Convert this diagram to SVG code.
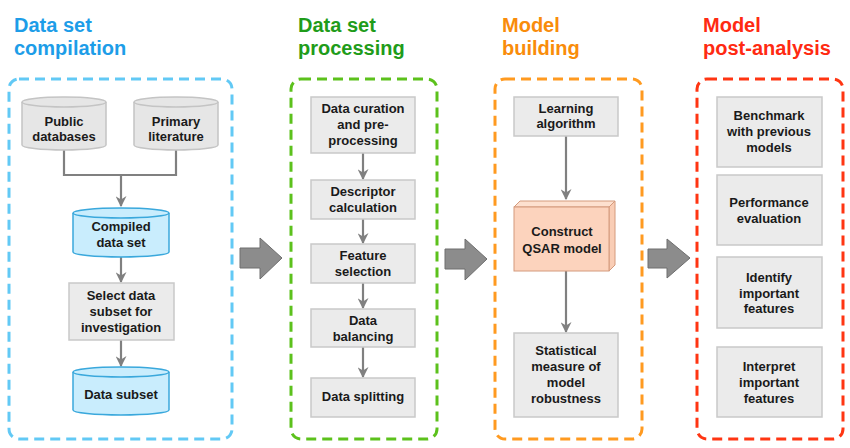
<svg xmlns="http://www.w3.org/2000/svg" width="850" height="448" viewBox="0 0 850 448">
<defs>
<style>
.title{font-family:"Liberation Sans",Arial,sans-serif;font-weight:bold;font-size:20px}
.t{font-family:"Liberation Sans",Arial,sans-serif;font-weight:bold;font-size:13px;fill:#1a1a1a;text-anchor:middle}
.box{fill:#ebebeb;stroke:#c9c9c9;stroke-width:1.5}
.cylG{fill:#e6e6e6;stroke:#c4c4c4;stroke-width:1.5}
.cylB{fill:#c9edfd;stroke:#3aa8dc;stroke-width:1.5}
.frame{fill:none;stroke-width:3;stroke-dasharray:10 6}
.conn{fill:none;stroke:#808080;stroke-width:2.2}
.big{fill:#8c8c8c;stroke:#6e6e6e;stroke-width:1}
</style>
<marker id="ah" viewBox="0 0 10 10" refX="9" refY="5" markerWidth="5" markerHeight="5" markerUnits="strokeWidth" orient="auto">
<path d="M0,0 L10,5 L0,10 L3,5 z" fill="#808080"/>
</marker>
</defs>
<rect width="850" height="448" fill="#ffffff"/>

<!-- titles -->
<g id="titles">
<text class="title" x="14" y="32" fill="#1d9de8">Data set</text>
<text class="title" x="14" y="55" fill="#1d9de8">compilation</text>
<text class="title" x="298" y="32" fill="#1f9c1a">Data set</text>
<text class="title" x="298" y="55" fill="#1f9c1a">processing</text>
<text class="title" x="502" y="32" fill="#f98c0a">Model</text>
<text class="title" x="502" y="55" fill="#f98c0a">building</text>
<text class="title" x="703" y="32" fill="#ff2a12">Model</text>
<text class="title" x="703" y="55" fill="#ff2a12">post-analysis</text>
</g>

<!-- frames -->
<g id="frames">
<rect class="frame" x="9" y="79" width="223" height="360" rx="10" stroke="#62c9f5"/>
<rect class="frame" x="291" y="79" width="146" height="360" rx="10" stroke="#5cc11c"/>
<rect class="frame" x="495" y="79" width="147" height="360" rx="10" stroke="#ff9a20"/>
<rect class="frame" x="697" y="79" width="146" height="360" rx="10" stroke="#ff3512"/>
</g>

<!-- connectors -->
<g id="connectors">
<path class="conn" d="M64,150 V175 H176 V150"/>
<path class="conn" d="M121,175 V206" marker-end="url(#ah)"/>
<path class="conn" d="M121,257 V282" marker-end="url(#ah)"/>
<path class="conn" d="M121,340 V366" marker-end="url(#ah)"/>
<path class="conn" d="M363,153 V179" marker-end="url(#ah)"/>
<path class="conn" d="M363,219 V243" marker-end="url(#ah)"/>
<path class="conn" d="M363,283 V308" marker-end="url(#ah)"/>
<path class="conn" d="M363,347 V377" marker-end="url(#ah)"/>
<path class="conn" d="M566,136 V199" marker-end="url(#ah)"/>
<path class="conn" d="M566,271 V332" marker-end="url(#ah)"/>
<path class="big" d="M240,248 H260 V238 L282,258 L260,279 V268 H240 Z"/>
<path class="big" d="M445,249 H465 V239 L487,259 L465,280 V269 H445 Z"/>
<path class="big" d="M648,249 H667 V239 L690,258 L667,278 V268 H648 Z"/>
</g>

<!-- column 1 -->
<g id="public-databases">
<path class="cylG" d="M22,102 V145 A42,5 0 0 0 106,145 V102"/>
<ellipse class="cylG" cx="64" cy="102" rx="42" ry="5"/>
<text class="t" x="64" y="126">Public</text>
<text class="t" x="64" y="141">databases</text>
</g>
<g id="primary-literature">
<path class="cylG" d="M134,102 V145 A42,5 0 0 0 218,145 V102"/>
<ellipse class="cylG" cx="176" cy="102" rx="42" ry="5"/>
<text class="t" x="176" y="126">Primary</text>
<text class="t" x="176" y="141">literature</text>
</g>
<g id="compiled-data-set">
<path class="cylB" d="M73,213 V252 A48,5 0 0 0 169,252 V213"/>
<ellipse class="cylB" cx="121" cy="213" rx="48" ry="5"/>
<text class="t" x="121" y="231">Compiled</text>
<text class="t" x="121" y="247">data set</text>
</g>
<g id="select-subset">
<rect class="box" x="69" y="283" width="105" height="57"/>
<text class="t" x="121" y="300">Select data</text>
<text class="t" x="121" y="316">subset for</text>
<text class="t" x="121" y="332">investigation</text>
</g>
<g id="data-subset">
<path class="cylB" d="M73,372 V410 A48,5 0 0 0 169,410 V372"/>
<ellipse class="cylB" cx="121" cy="372" rx="48" ry="5"/>
<text class="t" x="121" y="399">Data subset</text>
</g>

<!-- column 2 -->
<g id="data-curation">
<rect class="box" x="311" y="97" width="104" height="56"/>
<text class="t" x="363" y="113">Data curation</text>
<text class="t" x="363" y="129">and pre-</text>
<text class="t" x="363" y="145">processing</text>
</g>
<g id="descriptor-calculation">
<rect class="box" x="311" y="180" width="104" height="39"/>
<text class="t" x="363" y="196">Descriptor</text>
<text class="t" x="363" y="212">calculation</text>
</g>
<g id="feature-selection">
<rect class="box" x="311" y="244" width="104" height="39"/>
<text class="t" x="363" y="260">Feature</text>
<text class="t" x="363" y="276">selection</text>
</g>
<g id="data-balancing">
<rect class="box" x="311" y="309" width="104" height="38"/>
<text class="t" x="363" y="325">Data</text>
<text class="t" x="363" y="341">balancing</text>
</g>
<g id="data-splitting">
<rect class="box" x="311" y="378" width="104" height="39"/>
<text class="t" x="363" y="401">Data splitting</text>
</g>

<!-- column 3 -->
<g id="learning-algorithm">
<rect class="box" x="514" y="97" width="104" height="39"/>
<text class="t" x="566" y="113">Learning</text>
<text class="t" x="566" y="128">algorithm</text>
</g>
<g id="construct-qsar">
<path d="M514,207 L520,201 H615 L609,207 Z" fill="#fde0cf" stroke="#d49a7c" stroke-width="1"/>
<path d="M609,207 L615,201 V265 L609,271 Z" fill="#f9cdb5" stroke="#d49a7c" stroke-width="1"/>
<rect x="514" y="207" width="95" height="64" fill="#fcd3bd" stroke="#d49a7c" stroke-width="1"/>
<text class="t" x="562" y="236">Construct</text>
<text class="t" x="562" y="253">QSAR model</text>
</g>
<g id="statistical-measure">
<rect class="box" x="514" y="333" width="104" height="84"/>
<text class="t" x="566" y="355">Statistical</text>
<text class="t" x="566" y="371">measure of</text>
<text class="t" x="566" y="387">model</text>
<text class="t" x="566" y="403">robustness</text>
</g>

<!-- column 4 -->
<g id="benchmark">
<rect class="box" x="717" y="97" width="105" height="70"/>
<text class="t" x="769" y="120">Benchmark</text>
<text class="t" x="769" y="136">with previous</text>
<text class="t" x="769" y="152">models</text>
</g>
<g id="performance-evaluation">
<rect class="box" x="717" y="175" width="105" height="70"/>
<text class="t" x="769" y="207">Performance</text>
<text class="t" x="769" y="223">evaluation</text>
</g>
<g id="identify-features">
<rect class="box" x="717" y="257" width="105" height="71"/>
<text class="t" x="769" y="282">Identify</text>
<text class="t" x="769" y="298">important</text>
<text class="t" x="769" y="313">features</text>
</g>
<g id="interpret-features">
<rect class="box" x="717" y="347" width="105" height="70"/>
<text class="t" x="769" y="371">Interpret</text>
<text class="t" x="769" y="387">important</text>
<text class="t" x="769" y="403">features</text>
</g>
</svg>
